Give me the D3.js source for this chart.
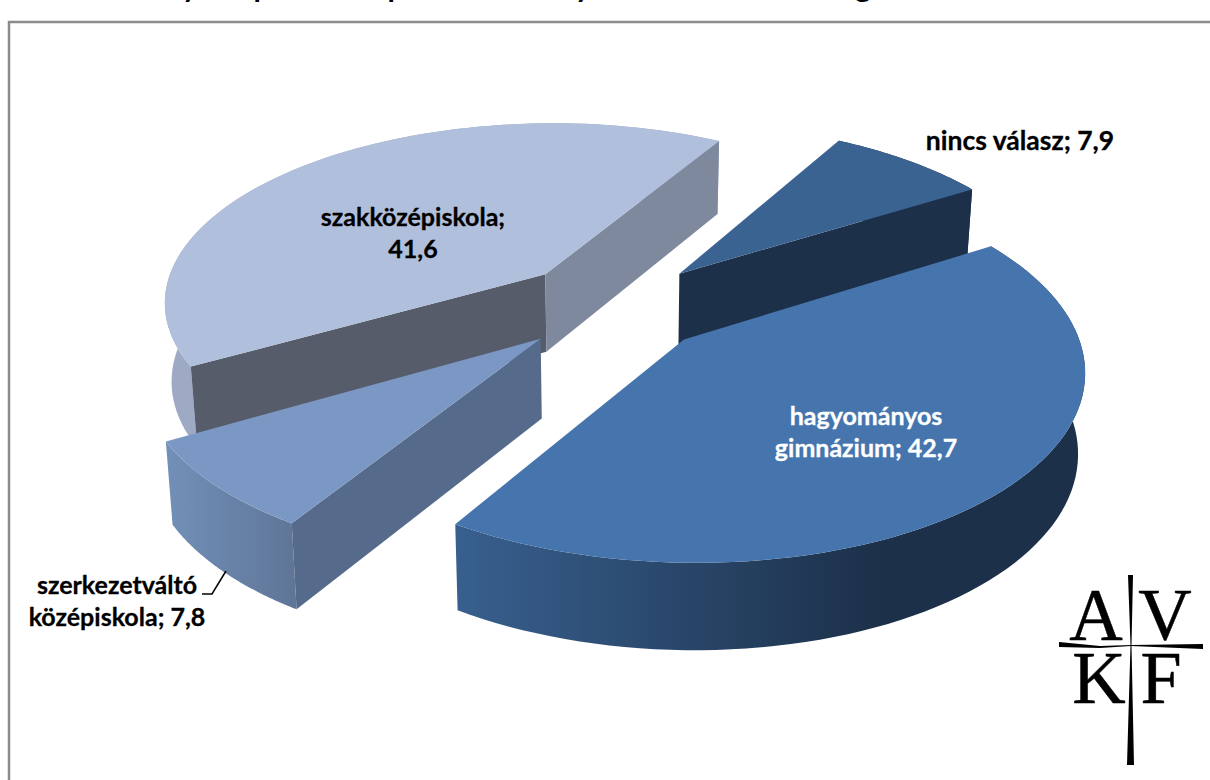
<!DOCTYPE html>
<html>
<head>
<meta charset="utf-8">
<script src="https://cdn.jsdelivr.net/npm/d3@7"></script>
<style>
  html, body { margin: 0; padding: 0; background: #fff; overflow: hidden; }
  text { font-family: Lato, "Open Sans", sans-serif; font-weight: 700; }
</style>
</head>
<body>
<div class="chart"></div>
<script>
const categories = ['nincs válasz', 'hagyományos gimnázium', 'szerkezetváltó középiskola', 'szakközépiskola'];
const values = [7.9, 42.7, 7.8, 41.6];
const labelLines = [['nincs válasz; 7,9'], ['hagyományos', 'gimnázium; 42,7'], ['szerkezetváltó', 'középiskola; 7,8'], ['szakközépiskola;', '41,6']];
const titleScraps = ['y', 'p', 'p', 'y', 'g'];

const width = 1210;
const height = 780;

// look of each slice: top face, outer wall gradient, wall at the start edge, wall at the end edge
const tops = ['#3b6391', '#4675ae', '#7b98c5', '#b0bfdb'];
const outerFrom = ['#1d3049', '#38608f', '#7290b8', '#9ea9c3'];
const outerTo = ['#1d3049', '#1c3049', '#5f7698', '#9ea9c3'];
const startWalls = [null, null, '#566a8b', '#565c69'];
const endWalls = ['#1d3049', null, null, '#7f899d'];
const drawOrder = [3, 0, 2, 1];

const cx = 613, cy = 306, tilt = 0.47, camera = 2700;
const radius = 385, explode = 98;

const wallHeight = d3.scaleLinear().domain([0.87, 1.17]).range([73, 86]);

const pie = d3.pie().sort(null).value(d => d)
  .startAngle(29.8 * Math.PI / 180)
  .endAngle((29.8 + 360) * Math.PI / 180);
const arcs = pie(values);

const project = (x, z) => {
  const k = 1 / (1 - z / camera);
  return { x: cx + x * k, y: cy + tilt * z * k, k };
};

// r = 0 gives the slice's apex, r = radius a point on its rim
const topPoint = (d, r, a) => {
  const mid = (d.startAngle + d.endAngle) / 2;
  const x = explode * Math.sin(mid) + r * Math.sin(a);
  const z = -explode * Math.cos(mid) - r * Math.cos(a);
  return project(x, z);
};
const lowPoint = p => ({ x: cx + (p.x - cx) * 0.985, y: p.y + wallHeight(p.k) });

const line = d3.line().x(p => p.x).y(p => p.y);

const rim = d => {
  const n = 80;
  return d3.range(n + 1).map(i => topPoint(d, radius, d.startAngle + (d.endAngle - d.startAngle) * i / n));
};

const svg = d3.select('.chart').append('svg')
  .attr('width', width)
  .attr('height', height)
  .style('display', 'block');

const defs = svg.append('defs');
arcs.forEach((d, i) => {
  const pts = rim(d);
  const grad = defs.append('linearGradient')
    .attr('id', 'outer' + i)
    .attr('gradientUnits', 'userSpaceOnUse')
    .attr('x1', i === 1 ? 453 : d3.min(pts, p => p.x))
    .attr('x2', i === 1 ? 880 : d3.max(pts, p => p.x))
    .attr('y1', 0).attr('y2', 0);
  grad.append('stop').attr('offset', 0).attr('stop-color', outerFrom[i]);
  grad.append('stop').attr('offset', 1).attr('stop-color', outerTo[i]);
});

// frame, its right and bottom sides fall outside the picture
svg.append('rect')
  .attr('x', 9).attr('y', 22)
  .attr('width', 1300).attr('height', 800)
  .attr('fill', '#fff')
  .attr('stroke', '#8c8c8c')
  .attr('stroke-width', 2.5);

// what is left of the title, cut by the top of the picture
svg.append('g').selectAll('text')
  .data(titleScraps)
  .join('text')
  .attr('x', (d, i) => [190, 262, 396, 583, 863][i])
  .attr('y', -3)
  .attr('text-anchor', 'middle')
  .attr('font-size', 30)
  .text(d => d);

const wallPath = (a, b) => {
  const la = lowPoint(a), lb = lowPoint(b);
  return line([a, b, lb, la]) + 'Z';
};

const slices = svg.append('g').selectAll('g')
  .data(drawOrder.map(i => ({ arc: arcs[i], i })))
  .join('g');

slices.append('path')
  .attr('fill', d => `url(#outer${d.i})`)
  .attr('d', d => {
    const pts = rim(d.arc);
    return line(pts.concat(pts.map(lowPoint).reverse())) + 'Z';
  });

slices.filter(d => startWalls[d.i]).append('path')
  .attr('fill', d => startWalls[d.i])
  .attr('d', d => wallPath(topPoint(d.arc, 0, 0), topPoint(d.arc, radius, d.arc.startAngle)));

slices.filter(d => endWalls[d.i]).append('path')
  .attr('fill', d => endWalls[d.i])
  .attr('d', d => wallPath(topPoint(d.arc, 0, 0), topPoint(d.arc, radius, d.arc.endAngle)));

slices.append('path')
  .attr('fill', d => tops[d.i])
  .attr('d', d => line([topPoint(d.arc, 0, 0)].concat(rim(d.arc))) + 'Z');

// labels
const labelX = [1020, 866, 117, 413];
const labelY = [150, 425, 594, 226];
const labelSize = [26.5, 25, 25, 25];
const labelFill = ['#000', '#fff', '#000', '#000'];
svg.append('g').selectAll('text')
  .data(labelLines)
  .join('text')
  .attr('text-anchor', 'middle')
  .attr('font-size', (d, i) => labelSize[i])
  .attr('fill', (d, i) => labelFill[i])
  .attr('stroke', (d, i) => labelFill[i])
  .attr('stroke-width', 0.3)
  .attr('y', (d, i) => labelY[i])
  .selectAll('tspan')
  .data((d, i) => d.map(t => ({ t, i })))
  .join('tspan')
  .attr('x', d => labelX[d.i])
  .attr('dy', (d, j) => j ? 32 : 0)
  .text(d => d.t);

// leader line of the small slice
svg.append('path')
  .attr('fill', 'none')
  .attr('stroke', '#000')
  .attr('stroke-width', 1.5)
  .attr('d', 'M202,594H212L226,571');

// logo
const logo = svg.append('g');
const logoLetters = ['A', 'V', 'K', 'F'];
logo.selectAll('text')
  .data(logoLetters)
  .join('text')
  .style('font-family', '"Liberation Serif", serif')
  .style('font-weight', 400)
  .attr('font-size', 74)
  .attr('text-anchor', 'middle')
  .attr('stroke', '#000')
  .attr('stroke-width', 0.5)
  .attr('x', (d, i) => [1096, 1165, 1099, 1161][i])
  .attr('y', (d, i) => i < 2 ? 640 : 703)
  .text(d => d);
logo.append('path').attr('fill', '#000')
  .attr('d', 'M1128,575L1133,575L1131.5,645L1134,765L1127,765L1130.5,645Z');
logo.append('path').attr('fill', '#000')
  .attr('d', 'M1059,642L1100,646L1131,645L1203,644L1203,649L1131,646L1100,648L1059,647Z');
</script>
</body>
</html>
